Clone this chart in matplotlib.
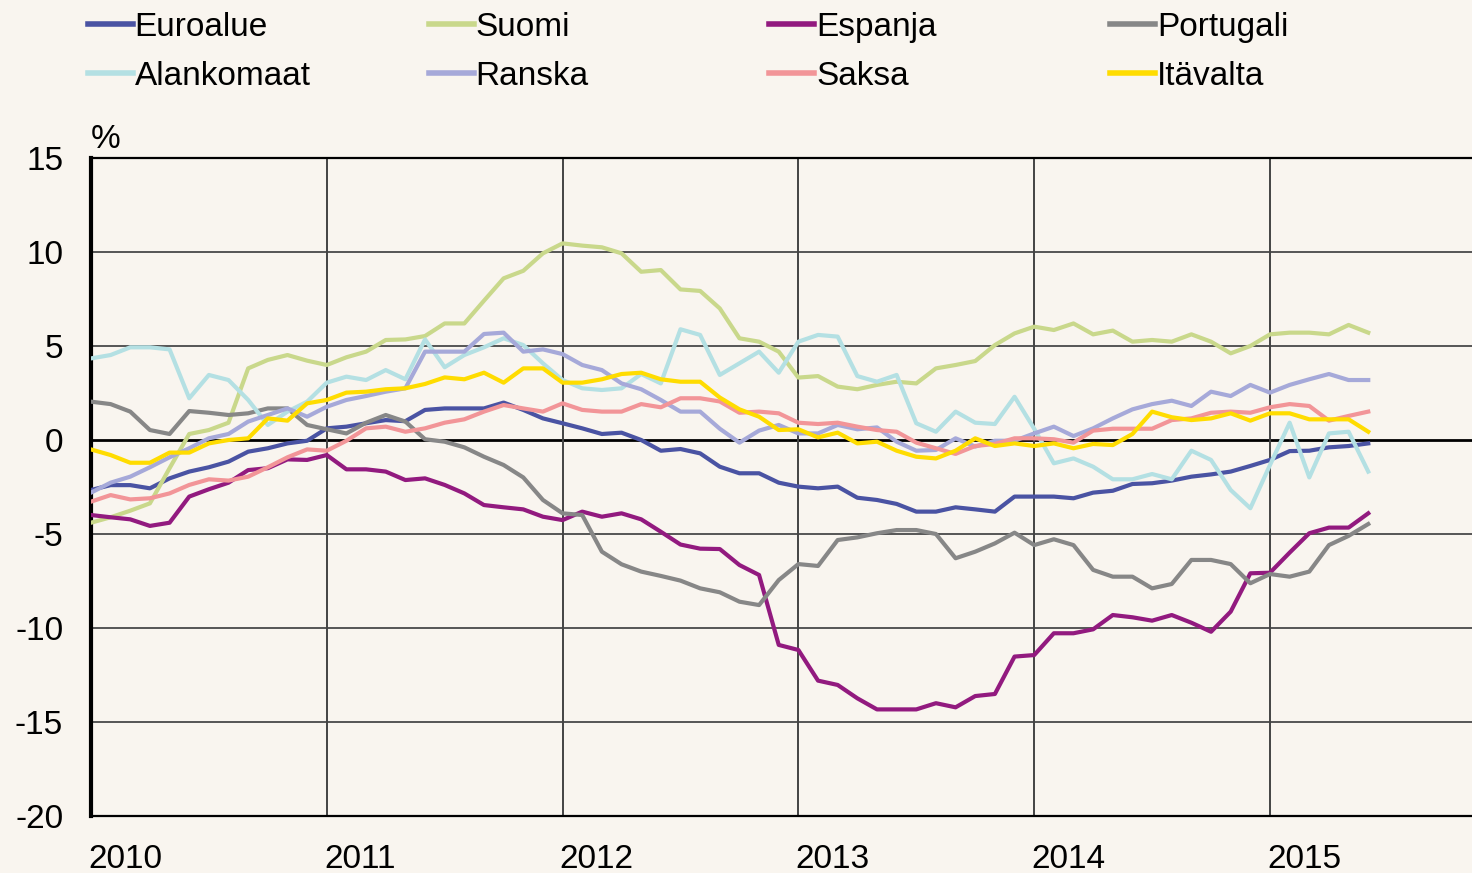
import numpy as np
import matplotlib.pyplot as plt
from matplotlib.lines import Line2D

plt.rcParams['font.family'] = ['Liberation Sans', 'DejaVu Sans']
plt.rcParams['axes.unicode_minus'] = False

# kuukausittaiset arvot, tammikuu 2010 - kesäkuu 2015 (%)
euroalue = [-2.66, -2.4, -2.4, -2.57, -2.04, -1.68, -1.45, -1.15, -0.62, -0.44, -0.18, -0.04,
            0.62, 0.71, 0.89, 1.06, 1.0, 1.6, 1.68, 1.68, 1.68, 1.99, 1.6, 1.15,
            0.89, 0.62, 0.32, 0.39, 0.0, -0.57, -0.48, -0.71, -1.42, -1.77, -1.77, -2.27,
            -2.48, -2.57, -2.48, -3.07, -3.19, -3.4, -3.81, -3.81, -3.58, -3.69, -3.81, -3.01,
            -3.01, -3.01, -3.1, -2.8, -2.7, -2.34, -2.3, -2.16, -1.95, -1.83, -1.68, -1.38,
            -1.06, -0.59, -0.57, -0.39, -0.32, -0.18]
suomi = [-4.4, -4.11, -3.76, -3.37, -1.5, 0.32, 0.53, 0.92, 3.81, 4.26, 4.52, 4.22,
         3.99, 4.4, 4.7, 5.32, 5.35, 5.53, 6.2, 6.2, 7.41, 8.6, 9.0, 9.93,
         10.46, 10.34, 10.25, 9.93, 8.95, 9.04, 8.01, 7.93, 7.0, 5.41, 5.23, 4.7,
         3.32, 3.4, 2.84, 2.7, 2.93, 3.1, 3.01, 3.81, 3.99, 4.2, 5.05, 5.67,
         6.03, 5.85, 6.2, 5.62, 5.82, 5.23, 5.32, 5.23, 5.62, 5.23, 4.61, 5.0,
         5.62, 5.71, 5.71, 5.62, 6.12, 5.71]
espanja = [-3.99, -4.11, -4.22, -4.57, -4.4, -3.01, -2.62, -2.27, -1.6, -1.5, -1.03, -1.06,
           -0.8, -1.56, -1.56, -1.68, -2.13, -2.04, -2.39, -2.84, -3.46, -3.58, -3.69, -4.08,
           -4.26, -3.81, -4.08, -3.9, -4.22, -4.88, -5.56, -5.78, -5.8, -6.65, -7.18, -10.9,
           -11.17, -12.8, -13.03, -13.74, -14.33, -14.33, -14.33, -14.0, -14.22, -13.62, -13.51, -11.52,
           -11.44, -10.28, -10.28, -10.07, -9.31, -9.43, -9.61, -9.31, -9.72, -10.2, -9.13, -7.09,
           -7.06, -5.99, -4.96, -4.66, -4.66, -3.9]
portugali = [2.04, 1.91, 1.51, 0.53, 0.32, 1.54, 1.45, 1.33, 1.42, 1.68, 1.68, 0.8,
             0.57, 0.35, 0.92, 1.33, 0.98, 0.04, -0.09, -0.39, -0.89, -1.33, -1.99, -3.19,
             -3.9, -3.99, -5.94, -6.61, -7.0, -7.23, -7.48, -7.89, -8.1, -8.6, -8.78, -7.45,
             -6.6, -6.7, -5.32, -5.18, -4.96, -4.79, -4.79, -5.0, -6.29, -5.94, -5.5, -4.93,
             -5.59, -5.28, -5.59, -6.91, -7.27, -7.27, -7.89, -7.66, -6.38, -6.38, -6.6, -7.62,
             -7.13, -7.27, -7.0, -5.59, -5.1, -4.47]
alankomaat = [4.34, 4.52, 4.93, 4.93, 4.82, 2.22, 3.46, 3.19, 2.13, 0.8, 1.51, 2.04,
              3.05, 3.37, 3.19, 3.72, 3.23, 5.35, 3.87, 4.52, 4.93, 5.41, 5.05, 4.08,
              3.19, 2.75, 2.66, 2.75, 3.51, 3.01, 5.89, 5.59, 3.46, 4.08, 4.7, 3.58,
              5.23, 5.59, 5.5, 3.4, 3.1, 3.46, 0.89, 0.44, 1.51, 0.92, 0.85, 2.3,
              0.6, -1.24, -0.98, -1.42, -2.09, -2.09, -1.81, -2.09, -0.57, -1.06, -2.66, -3.63,
              -1.33, 0.92, -1.99, 0.35, 0.44, -1.68]
ranska = [-2.8, -2.27, -1.95, -1.45, -0.92, -0.44, 0.09, 0.32, 0.98, 1.33, 1.68, 1.24,
          1.77, 2.13, 2.34, 2.57, 2.75, 4.7, 4.7, 4.7, 5.64, 5.71, 4.7, 4.82,
          4.57, 3.99, 3.72, 3.01, 2.7, 2.13, 1.51, 1.51, 0.6, -0.14, 0.5, 0.8,
          0.35, 0.35, 0.8, 0.57, 0.67, -0.09, -0.57, -0.53, 0.09, -0.35, -0.04, -0.04,
          0.35, 0.71, 0.21, 0.62, 1.15, 1.63, 1.91, 2.09, 1.81, 2.57, 2.34, 2.93,
          2.52, 2.93, 3.23, 3.51, 3.19, 3.19]
saksa = [-3.28, -2.93, -3.16, -3.1, -2.84, -2.39, -2.09, -2.16, -1.95, -1.45, -0.92, -0.5,
         -0.57, -0.04, 0.62, 0.71, 0.44, 0.62, 0.92, 1.1, 1.51, 1.86, 1.68, 1.51,
         1.95, 1.6, 1.51, 1.51, 1.91, 1.74, 2.22, 2.22, 2.05, 1.45, 1.51, 1.42,
         0.92, 0.85, 0.92, 0.71, 0.53, 0.44, -0.14, -0.44, -0.74, -0.32, -0.21, 0.09,
         0.09, 0.04, -0.14, 0.5, 0.6, 0.6, 0.6, 1.06, 1.15, 1.45, 1.51, 1.45,
         1.74, 1.91, 1.81, 1.03, 1.28, 1.51]
itavalta = [-0.5, -0.8, -1.21, -1.21, -0.67, -0.67, -0.18, 0.0, 0.09, 1.15, 1.03, 1.95,
            2.13, 2.52, 2.57, 2.7, 2.75, 2.98, 3.33, 3.23, 3.58, 3.05, 3.81, 3.81,
            3.05, 3.05, 3.23, 3.51, 3.58, 3.23, 3.1, 3.1, 2.26, 1.63, 1.24, 0.53,
            0.57, 0.14, 0.39, -0.18, -0.09, -0.57, -0.89, -0.98, -0.57, 0.09, -0.32, -0.18,
            -0.32, -0.18, -0.44, -0.21, -0.27, 0.32, 1.51, 1.21, 1.06, 1.15, 1.42, 1.03,
            1.42, 1.42, 1.1, 1.1, 1.1, 0.44]

x = 2010 + np.arange(len(euroalue)) / 12

sarjat = [
    ("Euroalue", euroalue, "#4A53A3"),
    ("Suomi", suomi, "#C9D88B"),
    ("Espanja", espanja, "#921A7F"),
    ("Portugali", portugali, "#878787"),
    ("Alankomaat", alankomaat, "#B4E0E3"),
    ("Ranska", ranska, "#A6A9D9"),
    ("Saksa", saksa, "#F29598"),
    ("Itävalta", itavalta, "#FFDC00"),
]

fs = 24
tausta = "#F9F5EF"
fig = plt.figure(figsize=(14.72, 8.73), dpi=100, facecolor=tausta)
ax = fig.add_axes([0.0618, 0.0653, 0.9382, 0.7537], facecolor=tausta)

# ristikko
for v in [15, 10, 5, -5, -10, -15]:
    ax.axhline(v, color="#555555", lw=1.4, zorder=1)
ax.axhline(0, color="black", lw=2, zorder=1)
for yr in range(2011, 2016):
    ax.axvline(yr, color="#444444", lw=1.4, zorder=1)

kahvat = {}
for nimi, arvot, vari in sarjat:
    ax.plot(x, arvot, color=vari, lw=3, zorder=3)
    kahvat[nimi] = Line2D([], [], color=vari, lw=4)

ax.set_xlim(2010, 2010 + 1381 / 235.8)
ax.set_ylim(-20, 15)
ax.set_yticks(range(-20, 16, 5))
ax.set_xticks(range(2010, 2016))
ax.set_xticklabels([])
ax.tick_params(length=0, labelsize=fs, pad=20)
for yr in range(2010, 2016):
    ax.text(yr - 0.012, -21.5, str(yr), fontsize=fs, ha="left", va="top")

for s in ["top", "bottom"]:
    ax.spines[s].set_linewidth(1.6)
ax.spines["left"].set_linewidth(3)
ax.spines["right"].set_visible(False)

fig.text(0.0615, 1 - 140 / 873, "%", fontsize=fs, ha="left", va="center")

# selite neljänä sarakkeena
sarakkeet = [("Euroalue", "Alankomaat"), ("Suomi", "Ranska"), ("Espanja", "Saksa"), ("Portugali", "Itävalta")]
for i, (a, b) in enumerate(sarakkeet):
    fig.legend([kahvat[a], kahvat[b]], [a, b], loc="upper left",
               bbox_to_anchor=(0.0507 + i * 0.2315, 1.002), frameon=False,
               fontsize=fs, handlelength=1.35, handletextpad=0.05,
               labelspacing=0.55, borderaxespad=0)

fig.savefig("out.png", dpi=100, facecolor=tausta)
